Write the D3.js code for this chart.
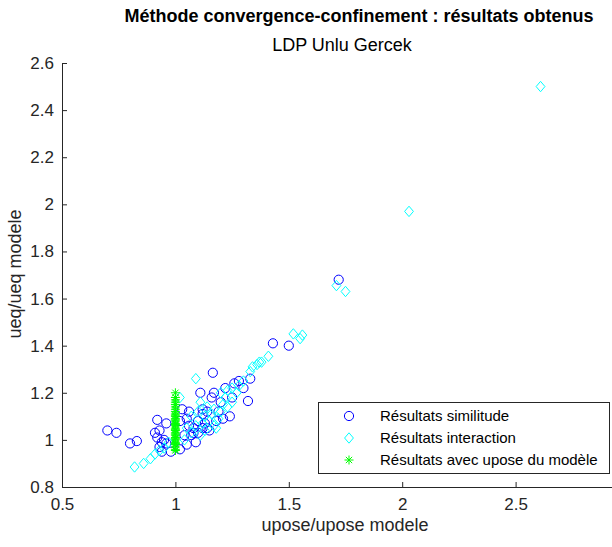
<!DOCTYPE html>
<html><head><meta charset="utf-8">
<script src="https://cdn.jsdelivr.net/npm/d3@7"></script>
<style>body{margin:0;background:#fff}svg{display:block;font-family:"Liberation Sans",Arial,sans-serif}</style>
</head><body><svg id="c" width="612" height="547"></svg>
<script>
const titleText = "Méthode convergence-confinement : résultats obtenus";
const subtitleText = "LDP Unlu Gercek";
const xLabel = "upose/upose modele";
const yLabel = "ueq/ueq modele";
const xTicks = [0.5, 1, 1.5, 2, 2.5];
const yTicks = [0.8, 1, 1.2, 1.4, 1.6, 1.8, 2, 2.2, 2.4, 2.6];
const legendLabels = ["Résultats similitude", "Résultats interaction", "Résultats avec upose du modèle"];

const simX = [0.70,0.74,0.80,0.83,0.91,0.92,0.92,0.94,0.96,0.93,0.94,0.98,0.95,0.96,0.93,
  1.03,1.05,1.06,1.08,1.07,1.10,1.12,1.14,1.12,1.13,1.08,1.10,1.15,1.11,1.16,1.17,1.165,1.20,1.21,1.14,1.19,1.22,1.25,1.28,1.26,1.32,1.12,1.06,1.02,1.04,1.02,1.05,1.09,1.18,1.24,1.30,1.33,1.43,1.50,1.72];
const simY = [1.04,1.03,0.985,0.995,1.03,1.085,1.01,0.99,0.985,1.04,0.95,0.95,1.0,1.07,0.97,
  1.13,1.09,1.06,1.03,1.02,1.08,1.05,1.12,1.11,1.07,1.05,1.03,1.04,1.20,1.18,1.2,1.285,1.16,1.09,1.05,1.12,1.22,1.18,1.25,1.24,1.165,1.13,1.12,1.08,1.02,0.96,0.98,0.99,1.08,1.10,1.22,1.26,1.41,1.40,1.68];

const intX = [0.82,0.86,0.89,0.91,0.93,0.95,0.97,1.02,1.09,1.05,1.07,1.10,1.11,1.12,1.13,1.14,1.15,1.16,1.17,1.18,1.19,1.20,1.20,1.21,1.22,1.23,1.23,1.25,1.25,1.27,1.28,1.30,1.33,1.34,1.36,1.37,1.38,1.41,1.07,1.09,1.11,1.13,1.17,1.04,1.52,1.55,1.56,1.71,1.75,2.03,2.61];
const intY = [0.885,0.90,0.92,0.94,0.955,0.965,0.99,1.18,1.26,1.05,1.10,1.12,1.16,1.07,1.10,1.14,1.08,1.11,1.13,1.05,1.09,1.12,1.20,1.15,1.18,1.14,1.21,1.16,1.22,1.20,1.23,1.25,1.29,1.31,1.32,1.33,1.33,1.355,1.03,1.06,1.02,1.04,1.06,1.00,1.45,1.43,1.445,1.655,1.63,1.97,2.50];

const modX = [1,1,1,1,1,1,1,1,1,1,1,1,1,1,1,1,1,1,1,1,1,1,1,1,1,1,1,1,1,1,1,1];
const modY = [1.20,1.18,1.17,1.16,1.15,1.14,1.13,1.12,1.11,1.105,1.10,1.09,1.085,1.08,1.07,1.065,1.06,1.05,1.045,1.04,1.03,1.025,1.02,1.01,1.005,1.0,0.99,0.985,0.98,0.97,0.96,0.955];

const svg = d3.select("#c");
const x = d3.scaleLinear().domain([0.5, 3]).range([62, 629]);
const y = d3.scaleLinear().domain([0.8, 2.6]).range([487, 63]);
const axisCol = "#262626";

// axes
const gx = svg.append("g").attr("transform", `translate(0,${y(0.8)})`)
  .call(d3.axisBottom(x).tickValues(xTicks).tickSizeInner(-5).tickSizeOuter(0).tickPadding(9).tickFormat(d3.format("")));
const gy = svg.append("g").attr("transform", `translate(${x(0.5)},0)`)
  .call(d3.axisLeft(y).tickValues(yTicks).tickSizeInner(-5).tickSizeOuter(0).tickPadding(9).tickFormat(d3.format("")));
[gx, gy].forEach(g => {
  g.select(".domain").attr("stroke", axisCol);
  g.selectAll(".tick line").attr("stroke", axisCol);
  g.selectAll(".tick text").attr("fill", axisCol).style("font-size", "17px").style("font-family", "Liberation Sans, Arial, sans-serif");
});
gy.selectAll(".tick text").attr("dx", "1");
gx.selectAll(".tick text").attr("dy", "0.8em");

// marks
const g = svg.append("g");
g.selectAll("circle.sim").data(d3.range(simX.length)).join("circle")
  .attr("cx", i => x(simX[i])).attr("cy", i => y(simY[i])).attr("r", 4.6)
  .attr("fill", "none").attr("stroke", "#0000ff").attr("stroke-width", 1);
const dia = 5.2;
g.selectAll("path.int").data(d3.range(intX.length)).join("path")
  .attr("d", i => { const cx = x(intX[i]), cy = y(intY[i]); return `M${cx},${cy-dia}L${cx+dia*0.85},${cy}L${cx},${cy+dia}L${cx-dia*0.85},${cy}Z`; })
  .attr("fill", "none").attr("stroke", "#00ffff").attr("stroke-width", 1);
function star(cx, cy, s) {
  const d = s * 0.7;
  return `M${cx-s},${cy}L${cx+s},${cy}M${cx},${cy-s}L${cx},${cy+s}M${cx-d},${cy-d}L${cx+d},${cy+d}M${cx-d},${cy+d}L${cx+d},${cy-d}`;
}
g.selectAll("path.mod").data(d3.range(modX.length)).join("path")
  .attr("d", i => star(x(modX[i]), y(modY[i]), 4.5))
  .attr("fill", "none").attr("stroke", "#00ff00").attr("stroke-width", 1);

// titles
svg.append("text").attr("x", 359).attr("y", 22).attr("text-anchor", "middle")
  .style("font-size", "18px").style("font-weight", "bold").attr("fill", "#000").text(titleText);
svg.append("text").attr("x", 342).attr("y", 51).attr("text-anchor", "middle")
  .style("font-size", "18px").attr("fill", "#000").text(subtitleText);
svg.append("text").attr("x", 345).attr("y", 531).attr("text-anchor", "middle")
  .style("font-size", "18px").attr("fill", axisCol).text(xLabel);
svg.append("text").attr("transform", `translate(21,274) rotate(-90)`).attr("text-anchor", "middle")
  .style("font-size", "18px").attr("fill", axisCol).text(yLabel);

// legend
const lg = svg.append("g");
lg.append("rect").attr("x", 318.5).attr("y", 402.5).attr("width", 291).attr("height", 71)
  .attr("fill", "#fff").attr("stroke", axisCol).attr("stroke-width", 1);
const rows = [416, 438, 460];
lg.append("circle").attr("cx", 349).attr("cy", rows[0]).attr("r", 4.6).attr("fill", "none").attr("stroke", "#0000ff");
lg.append("path").attr("d", `M349,${rows[1]-dia}L${349+dia*0.85},${rows[1]}L349,${rows[1]+dia}L${349-dia*0.85},${rows[1]}Z`).attr("fill", "none").attr("stroke", "#00ffff");
lg.append("path").attr("d", star(349, rows[2], 4.5)).attr("fill", "none").attr("stroke", "#00ff00");
legendLabels.forEach((t, i) => {
  lg.append("text").attr("x", 380).attr("y", rows[i]).attr("dy", "0.35em")
    .style("font-size", "15px").attr("fill", "#000").text(t);
});
</script></body></html>
